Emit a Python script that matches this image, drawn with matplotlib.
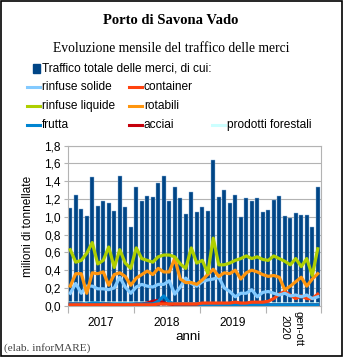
import matplotlib
matplotlib.use("Agg")
import matplotlib.pyplot as plt
import numpy as np
from matplotlib.lines import Line2D
from matplotlib.patches import Rectangle
from matplotlib.ticker import FuncFormatter, FixedLocator

# Monthly traffic, Jan 2017 - Oct 2020 (million tonnes)
totale = [1.10, 1.25, 1.09, 1.01, 1.45, 1.12, 1.18, 1.15, 1.06, 1.46, 1.11, 0.88,
          1.33, 1.18, 1.23, 1.22, 1.38, 1.46, 1.18, 1.33, 1.21, 1.03, 1.28, 1.05,
          1.11, 1.07, 1.64, 1.22, 1.30, 1.15, 1.24, 1.00, 1.21, 1.18, 1.21, 1.05,
          1.08, 1.19, 1.23, 1.01, 0.99, 1.04, 1.02, 1.02, 0.88, 1.34]
rinfuse_solide = [0.14, 0.25, 0.14, 0.22, 0.22, 0.19, 0.19, 0.18, 0.20, 0.32, 0.21, 0.14,
                  0.21, 0.24, 0.22, 0.21, 0.24, 0.24, 0.28, 0.13, 0.21, 0.31, 0.25, 0.22,
                  0.27, 0.29, 0.30, 0.32, 0.20, 0.16, 0.10, 0.14, 0.14, 0.18, 0.10, 0.15,
                  0.16, 0.14, 0.12, 0.14, 0.11, 0.12, 0.10, 0.12, 0.08, 0.10]
container = [0.01, 0.01, 0.01, 0.01, 0.01, 0.01, 0.01, 0.01, 0.01, 0.01, 0.01, 0.01,
             0.01, 0.01, 0.01, 0.01, 0.02, 0.02, 0.02, 0.02, 0.02, 0.02, 0.02, 0.02,
             0.03, 0.03, 0.03, 0.03, 0.03, 0.03, 0.04, 0.03, 0.03, 0.04, 0.04, 0.04,
             0.05, 0.08, 0.13, 0.16, 0.12, 0.08, 0.11, 0.08, 0.08, 0.13]
rinfuse_liquide = [0.63, 0.49, 0.51, 0.59, 0.71, 0.47, 0.51, 0.66, 0.43, 0.63, 0.48, 0.42,
                   0.65, 0.53, 0.51, 0.49, 0.55, 0.57, 0.57, 0.55, 0.47, 0.42, 0.65, 0.48,
                   0.51, 0.37, 0.76, 0.46, 0.46, 0.48, 0.51, 0.53, 0.56, 0.53, 0.55, 0.52,
                   0.51, 0.56, 0.53, 0.50, 0.46, 0.53, 0.44, 0.53, 0.34, 0.64]
rotabili = [0.22, 0.36, 0.36, 0.14, 0.37, 0.36, 0.38, 0.23, 0.35, 0.37, 0.33, 0.23,
            0.31, 0.35, 0.39, 0.35, 0.42, 0.38, 0.38, 0.53, 0.30, 0.26, 0.26, 0.24,
            0.29, 0.35, 0.41, 0.33, 0.37, 0.36, 0.40, 0.30, 0.37, 0.40, 0.38, 0.35,
            0.33, 0.34, 0.32, 0.18, 0.22, 0.27, 0.32, 0.22, 0.30, 0.36]
frutta = [0.02, 0.02, 0.02, 0.02, 0.03, 0.03, 0.02, 0.02, 0.02, 0.02, 0.02, 0.02,
          0.02, 0.02, 0.02, 0.02, 0.05, 0.11, 0.04, 0.02, 0.02, 0.02, 0.02, 0.02,
          0.01, 0.01, 0.01, 0.01, 0.01, 0.01, 0.01, 0.01, 0.01, 0.01, 0.01, 0.01,
          0.01, 0.01, 0.01, 0.01, 0.01, 0.01, 0.01, 0.01, 0.01, 0.01]
acciai = [0.02, 0.02, 0.02, 0.01, 0.01, 0.01, 0.02, 0.02, 0.01, 0.01, 0.01, 0.01,
          0.02, 0.02, 0.03, 0.05, 0.06, 0.03, 0.02, 0.01, 0.01, 0.01, 0.01, 0.01,
          0.01, 0.01, 0.01, 0.02, 0.02, 0.01, 0.01, 0.01, 0.01, 0.01, 0.01, 0.01,
          0.01, 0.01, 0.01, 0.01, 0.01, 0.01, 0.01, 0.01, 0.01, 0.01]
prodotti_forestali = [0.03, 0.03, 0.03, 0.03, 0.03, 0.03, 0.03, 0.03, 0.03, 0.03, 0.03, 0.03,
                      0.03, 0.03, 0.03, 0.03, 0.03, 0.02, 0.02, 0.02, 0.02, 0.02, 0.02, 0.02,
                      0.02, 0.02, 0.02, 0.02, 0.02, 0.02, 0.02, 0.02, 0.02, 0.02, 0.02, 0.02,
                      0.02, 0.02, 0.02, 0.02, 0.02, 0.02, 0.02, 0.02, 0.02, 0.02]

anni = ["2017", "2018", "2019"]
anno_parziale = ["2020", "gen-ott"]
y_ticks = [0.0, 0.2, 0.4, 0.6, 0.8, 1.0, 1.2, 1.4, 1.6, 1.8]

serie = [
    ("rinfuse solide", rinfuse_solide, "#83caff"),
    ("container", container, "#ff420e"),
    ("rinfuse liquide", rinfuse_liquide, "#aecf00"),
    ("rotabili", rotabili, "#ff950e"),
    ("frutta", frutta, "#0084d1"),
    ("acciai", acciai, "#c5000b"),
    ("prodotti forestali", prodotti_forestali, "#ccffff"),
]
draw_order = ["prodotti forestali", "acciai", "frutta", "container",
              "rinfuse solide", "rotabili", "rinfuse liquide"]

SANS = ["Liberation Sans", "DejaVu Sans"]
SERIF = ["Liberation Serif", "DejaVu Serif"]
plt.rcParams["font.family"] = SANS
FS = 8.6

W, H = 343, 357
fig = plt.figure(figsize=(W / 100, H / 100), dpi=100)

def fx(px):
    return px / W

def fy(py):
    return 1 - py / H

ax = fig.add_axes([fx(67.5), fy(305.7), fx(320.5) - fx(67.5), fy(145.7) - fy(305.7)])

n = len(totale)
x = np.arange(n) + 0.5
ax.bar(x, totale, width=0.8, color="#004586", edgecolor="#8fb4dc",
       linewidth=0.3, zorder=2)
lookup = {name: (vals, col) for name, vals, col in serie}
for name in draw_order:
    vals, col = lookup[name]
    ax.plot(x, vals, color=col, lw=2.3, solid_joinstyle="round", zorder=3)

ax.set_xlim(0, n)
ax.set_ylim(0, 1.8)
ax.set_yticks(y_ticks)
ax.yaxis.set_major_formatter(FuncFormatter(lambda v, p: f"{v:.1f}".replace(".", ",")))
ax.yaxis.grid(True, color="#b3b3b3", lw=0.8, zorder=0)
ax.set_axisbelow(True)
for s in ax.spines.values():
    s.set_color("#b3b3b3")
    s.set_linewidth(0.8)
ax.tick_params(axis="y", length=3, width=0.8, color="#b3b3b3", pad=2,
               labelsize=FS, labelcolor="black")

ax.xaxis.set_major_locator(FixedLocator([0, 12, 24, 36, n]))
ax.xaxis.set_minor_locator(FixedLocator([6, 18, 30]))
ax.set_xticklabels([], minor=False)
ax.set_xticklabels(anni, minor=True)
ax.tick_params(axis="x", which="major", length=5, width=0.8, color="#b3b3b3")
ax.tick_params(axis="x", which="minor", length=0, pad=8, labelsize=FS)

# Partial-year label, two rotated lines
ax.text(39.5, -0.058, anno_parziale[0], rotation=-90, ha="center", va="top",
        fontsize=8.0, transform=ax.get_xaxis_transform())
ax.text(42.0, -0.033, anno_parziale[1], rotation=-90, ha="center", va="top",
        fontsize=8.0, transform=ax.get_xaxis_transform())

fig.text(fx(188), fy(337), "anni", ha="center", va="center", fontsize=9.6)
fig.text(fx(28), fy(226), "milioni di tonnellate", rotation=90, ha="center",
         va="center", fontsize=FS)

# Titles
fig.text(fx(171), fy(20), "Porto di Savona Vado", ha="center", va="center",
         family=SERIF, fontweight="bold", fontsize=10.5)
fig.text(fx(171), fy(48), "Evoluzione mensile del traffico delle merci",
         ha="center", va="center", family=SERIF, fontsize=9.8)

# Legend
fig.patches.append(Rectangle((fx(33), fy(73)), fx(7), fy(64) - fy(73),
                             transform=fig.transFigure, color="#004586"))
fig.text(fx(42), fy(68.5), "Traffico totale delle merci, di cui:",
         ha="left", va="center", fontsize=FS)
slots = [(27, 87), (129, 87), (27, 106), (129, 106), (27, 125), (129, 125), (212, 125)]
for (name, vals, col), (lx, ly) in zip(serie, slots):
    fig.lines.append(Line2D([fx(lx), fx(lx + 13)], [fy(ly), fy(ly)],
                            transform=fig.transFigure, color=col, lw=2.2))
    fig.text(fx(lx + 15), fy(ly), name, ha="left", va="center", fontsize=FS)

fig.text(fx(4), fy(348), "(elab. inforMARE)", ha="left", va="center",
         family=SERIF, fontsize=8.1, color="#444444")

fig.patches.append(Rectangle((0.0015, 0.0015), 0.997, 0.997, transform=fig.transFigure,
                             fill=False, edgecolor="black", lw=1.2))

fig.savefig("out.png", dpi=100)
